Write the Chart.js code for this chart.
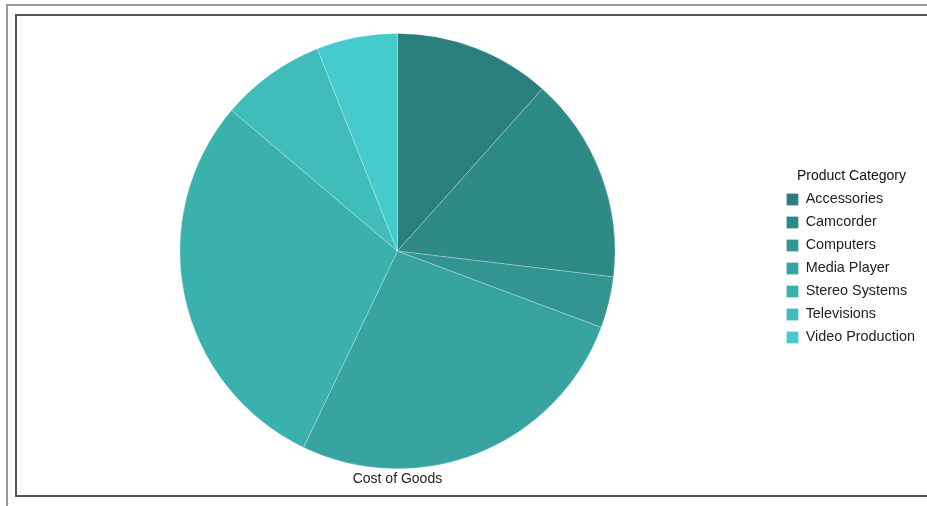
<!DOCTYPE html>
<html>
<head>
<meta charset="utf-8">
<script src="https://cdn.jsdelivr.net/npm/chart.js@4"></script>
<style>
  body { margin: 0; background: #fff; overflow: hidden; }
  .outer { position: absolute; left: 6px; top: 4px; width: 1000px; height: 520px; border: 2px solid #999; }
  .inner { position: absolute; left: 15px; top: 14px; width: 1000px; height: 479px; border: 2px solid #555; background: #fff; }
  .wrap { position: absolute; left: 17px; top: 16px; width: 910px; height: 479px; }
</style>
</head>
<body>
<div class="outer"></div>
<div class="inner"></div>
<div class="wrap"><canvas id="pieCanvas"></canvas></div>
<script>
// product categories and their share of cost of goods
const categories = ['Accessories', 'Camcorder', 'Computers', 'Media Player', 'Stereo Systems', 'Televisions', 'Video Production'];
const costOfGoods = [116, 153, 38, 264, 291, 78, 60];
const sliceColors = ['#2a7e7b', '#2e8a87', '#329592', '#37a4a1', '#3bb1ae', '#40bdbb', '#45cbcb'];

const fontFamily = '"Liberation Sans", Arial, sans-serif';

new Chart(document.getElementById('pieCanvas'), {
  type: 'pie',
  data: {
    labels: categories,
    datasets: [{
      data: costOfGoods,
      backgroundColor: sliceColors,
      borderColor: 'rgba(255,255,255,0.25)',
      borderWidth: 1
    }]
  },
  options: {
    responsive: true,
    maintainAspectRatio: false,
    animation: false,
    layout: { padding: { top: 17, left: 0, right: 2, bottom: 0 } },
    plugins: {
      tooltip: { enabled: false },
      legend: {
        position: 'right',
        title: {
          display: true,
          text: 'Product Category',
          color: '#111',
          font: { family: fontFamily, size: 14 },
          padding: { top: -6, bottom: -2 }
        },
        labels: {
          boxWidth: 12,
          boxHeight: 12,
          padding: 8.6,
          color: '#222',
          font: { family: fontFamily, size: 14.4 }
        }
      },
      title: {
        display: true,
        position: 'bottom',
        fullSize: false,
        text: 'Cost of Goods',
        color: '#222',
        font: { family: fontFamily, size: 14, weight: 'normal' },
        padding: { top: 2, bottom: 7 }
      }
    }
  }
});
</script>
</body>
</html>
